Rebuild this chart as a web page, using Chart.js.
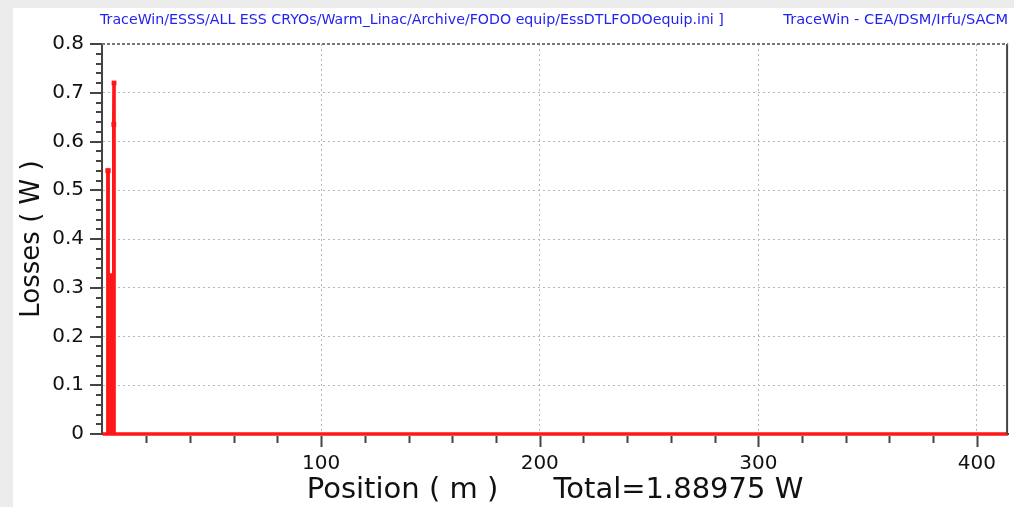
<!DOCTYPE html>
<html><head><meta charset="utf-8">
<script src="https://cdn.jsdelivr.net/npm/chart.js@4/dist/chart.umd.min.js"></script>
<style>html,body{margin:0;padding:0;background:#ececec;overflow:hidden}#c{display:block}</style>
</head><body>
<canvas id="c" width="1014" height="507"></canvas>
<script>
// ---- data ----
const positions = [0, 2.4, 2.4, 2.5, 2.5, 4.1, 4.1, 4.2, 4.2, 5.1, 5.1, 5.2, 5.2, 414.3];
const losses    = [0, 0,   0.54, 0.54, 0, 0,   0.33, 0.33, 0, 0,   0.635, 0.72, 0,  0];
const xTickLabels = [100, 200, 300, 400];
const yTickLabels = ['0', '0.1', '0.2', '0.3', '0.4', '0.5', '0.6', '0.7', '0.8'];
const headerLeft = 'TraceWin/ESSS/ALL ESS CRYOs/Warm_Linac/Archive/FODO equip/EssDTLFODOequip.ini ]';
const headerRight = 'TraceWin - CEA/DSM/Irfu/SACM';
const xTitle = 'Position ( m )      Total=1.88975 W';
const yTitle = 'Losses ( W )';

const FONT = 'DejaVu Sans';
const points = positions.map((x, i) => ({x: x, y: losses[i]}));
const isXMajor = v => xTickLabels.includes(Math.round(v));
const isYMajor = v => Math.abs(v * 10 - Math.round(v * 10)) < 1e-6;

const decor = {
  id: 'decor',
  beforeDraw(chart) {
    const ctx = chart.ctx;
    ctx.save();
    ctx.fillStyle = '#ececec';
    ctx.fillRect(0, 0, chart.width, chart.height);
    ctx.fillStyle = '#ffffff';
    ctx.fillRect(13, 8, chart.width - 13, chart.height - 8);
    ctx.fillStyle = '#2323f0';
    ctx.textBaseline = 'alphabetic';
    ctx.textAlign = 'left';
    ctx.font = '14.2px "' + FONT + '"';
    ctx.fillText(headerLeft, 100, 24);
    ctx.textAlign = 'right';
    ctx.font = '14.6px "' + FONT + '"';
    ctx.fillText(headerRight, 1008, 24);
    ctx.restore();
  },
  afterDraw(chart) {
    const ctx = chart.ctx, a = chart.chartArea;
    const xs = chart.scales.x, ys = chart.scales.y;
    ctx.save();
    ctx.strokeStyle = '#444';
    ctx.lineWidth = 2;
    // right frame
    ctx.beginPath(); ctx.moveTo(a.right - 1, a.top); ctx.lineTo(a.right - 1, a.bottom); ctx.stroke();
    // top frame
    ctx.setLineDash([3, 2]);
    ctx.strokeStyle = '#777';
    ctx.beginPath(); ctx.moveTo(a.left, a.top); ctx.lineTo(a.right, a.top); ctx.stroke();
    ctx.setLineDash([]);
    ctx.strokeStyle = '#444';
    // x tick marks
    xs.ticks.forEach(t => {
      if (t.value <= 0) return;
      const px = Math.round(xs.getPixelForValue(t.value)) + 0.5;
      const len = isXMajor(t.value) ? 13 : 9;
      ctx.lineWidth = 2;
      ctx.beginPath(); ctx.moveTo(px, a.bottom + 2); ctx.lineTo(px, a.bottom + len); ctx.stroke();
    });
    ys.ticks.forEach(t => {
      const py = Math.round(ys.getPixelForValue(t.value));
      const len = isYMajor(t.value) ? 12 : 6;
      ctx.lineWidth = 2;
      ctx.beginPath(); ctx.moveTo(a.left, py); ctx.lineTo(a.left - len, py); ctx.stroke();
    });
    ctx.restore();
  }
};

new Chart(document.getElementById('c'), {
  type: 'line',
  data: {
    datasets: [{
      data: points,
      borderColor: '#ff1616',
      backgroundColor: '#ff1616',
      borderWidth: 3.6,
      pointStyle: 'rect',
      pointRadius: c => (c.raw && c.raw.y >= 0.5 ? 3.4 : 0),
      pointBorderWidth: 0,
      tension: 0,
      fill: false,
      clip: false
    }]
  },
  options: {
    responsive: false,
    animation: false,
    devicePixelRatio: 1,
    layout: {padding: {top: 44, right: 2, left: 0, bottom: 0}},
    plugins: {legend: {display: false}, tooltip: {enabled: false}},
    scales: {
      x: {
        type: 'linear',
        min: -0.3, max: 414.3,
        afterFit: s => { s.height = 73; },
        afterBuildTicks: s => { const t = []; for (let v = 0; v <= 400; v += 20) t.push({value: v}); s.ticks = t; },
        ticks: {
          autoSkip: false, maxRotation: 0, padding: 18,
          font: {family: FONT, size: 20}, color: '#111',
          callback: v => (xTickLabels.includes(Math.round(v)) ? String(Math.round(v)) : '')
        },
        grid: {
          drawTicks: false,
          color: c => (c.tick && isXMajor(c.tick.value) ? '#b8b8b8' : 'rgba(0,0,0,0)'),
          lineWidth: 1
        },
        border: {display: true, color: '#444', width: 2, dash: [2, 3]},
        title: {display: true, text: xTitle, font: {family: FONT, size: 29}, color: '#111', padding: {top: 0, bottom: -1}}
      },
      y: {
        type: 'linear',
        min: 0, max: 0.8,
        afterFit: s => { s.width = 102; },
        afterBuildTicks: s => { const t = []; for (let i = 0; i <= 40; i++) t.push({value: i / 50}); s.ticks = t; },
        ticks: {
          autoSkip: false, padding: 18,
          font: {family: FONT, size: 20}, color: '#111',
          callback: v => (isYMajor(v) ? yTickLabels[Math.round(v * 10)] : '')
        },
        grid: {
          drawTicks: false,
          color: c => (c.tick && isYMajor(c.tick.value) && c.tick.value > 0 ? '#b8b8b8' : 'rgba(0,0,0,0)'),
          lineWidth: 1
        },
        border: {display: true, color: '#444', width: 2, dash: [2, 3]},
        title: {display: true, text: yTitle, font: {family: FONT, size: 26}, color: '#111', padding: {top: 17, bottom: 0}}
      }
    }
  },
  plugins: [decor]
});
</script>
</body></html>
